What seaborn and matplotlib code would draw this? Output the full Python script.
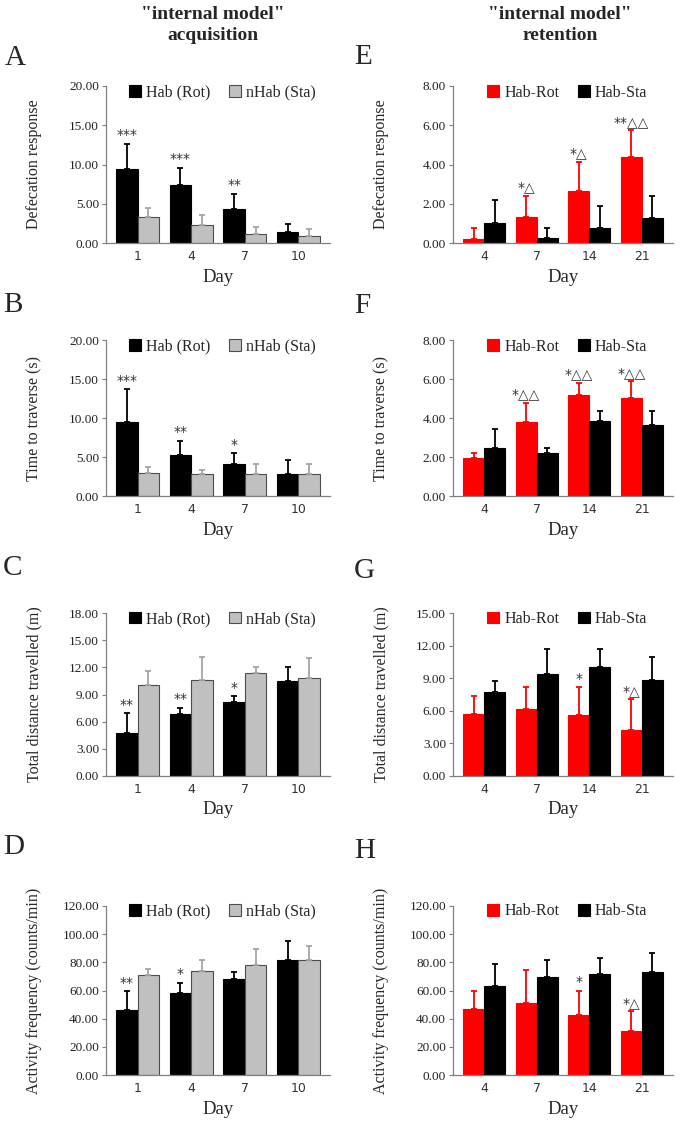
import matplotlib
matplotlib.use("Agg")
import matplotlib.pyplot as plt
from matplotlib.ticker import StrMethodFormatter
import seaborn as sns
import pandas as pd

# --- data ---
acq_days = ["1", "4", "7", "10"]
ret_days = ["4", "7", "14", "21"]
acq_groups = ["Hab (Rot)", "nHab (Sta)"]
ret_groups = ["Hab-Rot", "Hab-Sta"]

# A: defecation response, acquisition
a_hab = [9.47, 7.45, 4.38, 1.39]
a_hab_sd = [3.16, 2.15, 1.92, 1.01]
a_nhab = [3.28, 2.23, 1.14, 0.88]
a_nhab_sd = [1.14, 1.35, 0.96, 0.92]
a_marks = ["***", "***", "**", ""]

# B: time to traverse, acquisition
b_hab = [9.49, 5.27, 4.10, 2.87]
b_hab_sd = [4.20, 1.83, 1.40, 1.73]
b_nhab = [3.00, 2.80, 2.80, 2.80]
b_nhab_sd = [0.70, 0.50, 1.30, 1.25]
b_marks = ["***", "**", "*", ""]

# C: total distance, acquisition
c_hab = [4.72, 6.82, 8.16, 10.52]
c_hab_sd = [2.21, 0.73, 0.66, 1.48]
c_nhab = [10.01, 10.60, 11.36, 10.81]
c_nhab_sd = [1.59, 2.50, 0.72, 2.22]
c_marks = ["**", "**", "*", ""]

# D: activity frequency, acquisition
d_hab = [46.5, 58.5, 68.0, 81.4]
d_hab_sd = [12.9, 7.1, 4.8, 13.6]
d_nhab = [71.1, 74.0, 77.8, 81.9]
d_nhab_sd = [4.5, 7.6, 11.7, 9.5]
d_marks = ["**", "*", "", ""]

# E: defecation response, retention
e_rot = [0.22, 1.35, 2.65, 4.38]
e_rot_sd = [0.53, 1.05, 1.49, 1.37]
e_sta = [1.01, 0.26, 0.77, 1.27]
e_sta_sd = [1.19, 0.49, 1.11, 1.11]
e_marks = ["", "*△", "*△", "**△△"]

# F: time to traverse, retention
f_rot = [1.95, 3.81, 5.18, 5.05]
f_rot_sd = [0.28, 0.96, 0.62, 0.84]
f_sta = [2.45, 2.22, 3.85, 3.65]
f_sta_sd = [0.99, 0.23, 0.51, 0.71]
f_marks = ["", "*△△", "*△△", "*△△"]

# G: total distance, retention
g_rot = [5.66, 6.16, 5.59, 4.25]
g_rot_sd = [1.72, 2.03, 2.60, 2.81]
g_sta = [7.69, 9.38, 10.00, 8.84]
g_sta_sd = [1.06, 2.34, 1.66, 2.10]
g_marks = ["", "", "*", "*△"]

# H: activity frequency, retention
h_rot = [47.0, 51.3, 42.8, 30.9]
h_rot_sd = [12.3, 23.6, 17.0, 14.2]
h_sta = [63.5, 69.9, 71.6, 72.8]
h_sta_sd = [15.6, 11.8, 11.8, 14.1]
h_marks = ["", "", "*", "*△"]

W, H = 685, 1126
SERIF = "Liberation Serif"
SANS = "DejaVu Sans"

sns.set_style("ticks")
plt.rcParams["font.family"] = [SERIF, "DejaVu Serif"]

fig = plt.figure(figsize=(W / 100, H / 100), dpi=100)

ACQ_STYLE = dict(colors=["#000000", "#C0C0C0"], edges=["#000000", "#4D4D4D"],
                 errc=["#000000", "#A6A6A6"])
RET_STYLE = dict(colors=["#FF0000", "#000000"], edges=["#FF0000", "#000000"],
                 errc=["#FF0000", "#000000"])


def draw_panel(box, days, groups, v1, e1, v2, e2, style, ymax, ystep, ylabel, marks):
    l, t, r, b = box  # pixel box of the axes
    ax = fig.add_axes([l / W, 1 - b / H, (r - l) / W, (b - t) / H])
    df = pd.DataFrame({
        "day": days * 2,
        "group": [groups[0]] * len(days) + [groups[1]] * len(days),
        "value": v1 + v2,
    })
    sns.barplot(data=df, x="day", y="value", hue="group", order=days,
                hue_order=groups, palette=style["colors"], errorbar=None,
                width=0.8, saturation=1, linewidth=0.8, legend=False, ax=ax)

    # one-sided error bars on top of each bar
    first = None
    for cont, errs, edge, ec in zip(ax.containers, [e1, e2], style["edges"], style["errc"]):
        xs = [p.get_x() + p.get_width() / 2 for p in cont]
        hs = [p.get_height() for p in cont]
        for p in cont:
            p.set_edgecolor(edge)
        ax.errorbar(xs, hs, yerr=[[0] * len(errs), errs], fmt="none", ecolor=ec,
                    elinewidth=1.3, capsize=2.5, capthick=1.3, zorder=3)
        if first is None:
            first = (xs, hs)

    # significance marks above the first series
    for x, h, e, m in zip(first[0], first[1], e1, marks):
        if m:
            ax.annotate(m, (x, h + e), xytext=(0, 1), textcoords="offset points",
                        ha="center", va="bottom", fontsize=10, color="#333333",
                        family=[SANS])

    ax.set_ylim(0, ymax)
    ax.set_yticks([i * ystep for i in range(int(round(ymax / ystep)) + 1)])
    ax.yaxis.set_major_formatter(StrMethodFormatter("{x:.2f}"))
    ax.tick_params(axis="y", labelsize=9.5, length=3, width=0.8, color="#808080",
                   labelcolor="#222222", pad=2)
    ax.tick_params(axis="x", length=0, labelsize=9, labelcolor="#333333", pad=5)
    for lbl in ax.get_xticklabels():
        lbl.set_fontfamily(SANS)

    sns.despine(ax=ax)
    for s in ["left", "bottom"]:
        ax.spines[s].set_color("#808080")
        ax.spines[s].set_linewidth(0.9)

    ax.set_xlabel("Day", fontsize=13.5, labelpad=4)
    ax.set_ylabel(ylabel, fontsize=11.5)
    ax.yaxis.set_label_coords(-64 / (r - l), 0.5)

    handles = [cont[0] for cont in ax.containers]
    ax.legend(handles, groups, loc="upper center", bbox_to_anchor=(0.52, 1.10),
              ncol=2, frameon=False, handlelength=0.75, handleheight=0.75,
              handletextpad=0.3, columnspacing=1.2, prop={"family": SERIF, "size": 11.5})
    return ax


LX = (106, 330)
RX = (453, 673)
rows = [(86, 243), (340, 496), (613, 776), (906, 1075)]

draw_panel((LX[0], rows[0][0], LX[1], rows[0][1]), acq_days, acq_groups,
           a_hab, a_hab_sd, a_nhab, a_nhab_sd, ACQ_STYLE, 20, 5, "Defecation response", a_marks)
draw_panel((LX[0], rows[1][0], LX[1], rows[1][1]), acq_days, acq_groups,
           b_hab, b_hab_sd, b_nhab, b_nhab_sd, ACQ_STYLE, 20, 5, "Time to traverse (s)", b_marks)
draw_panel((LX[0], rows[2][0], LX[1], rows[2][1]), acq_days, acq_groups,
           c_hab, c_hab_sd, c_nhab, c_nhab_sd, ACQ_STYLE, 18, 3, "Total distance travelled (m)", c_marks)
draw_panel((LX[0], rows[3][0], LX[1], rows[3][1]), acq_days, acq_groups,
           d_hab, d_hab_sd, d_nhab, d_nhab_sd, ACQ_STYLE, 120, 20,
           "Activity frequency (counts/min)", d_marks)

draw_panel((RX[0], rows[0][0], RX[1], rows[0][1]), ret_days, ret_groups,
           e_rot, e_rot_sd, e_sta, e_sta_sd, RET_STYLE, 8, 2, "Defecation response", e_marks)
draw_panel((RX[0], rows[1][0], RX[1], rows[1][1]), ret_days, ret_groups,
           f_rot, f_rot_sd, f_sta, f_sta_sd, RET_STYLE, 8, 2, "Time to traverse (s)", f_marks)
draw_panel((RX[0], rows[2][0], RX[1], rows[2][1]), ret_days, ret_groups,
           g_rot, g_rot_sd, g_sta, g_sta_sd, RET_STYLE, 15, 3, "Total distance travelled (m)", g_marks)
draw_panel((RX[0], rows[3][0], RX[1], rows[3][1]), ret_days, ret_groups,
           h_rot, h_rot_sd, h_sta, h_sta_sd, RET_STYLE, 120, 20,
           "Activity frequency (counts/min)", h_marks)

# column headers
fig.text(213 / W, 1 - 25 / H, '"internal model"\nacquisition', ha="center", va="center",
         fontsize=14, fontweight="bold", linespacing=1.3)
fig.text(560 / W, 1 - 25 / H, '"internal model"\nretention', ha="center", va="center",
         fontsize=14, fontweight="bold", linespacing=1.3)

# panel letters
for letter, x, y in [("A", 5, 58), ("B", 3, 305), ("C", 3, 568), ("D", 3, 847),
                     ("E", 354, 57), ("F", 354, 306), ("G", 354, 571), ("H", 354, 851)]:
    fig.text(x / W, 1 - y / H, letter, ha="left", va="center", fontsize=21)

fig.savefig("out.png", dpi=100)
